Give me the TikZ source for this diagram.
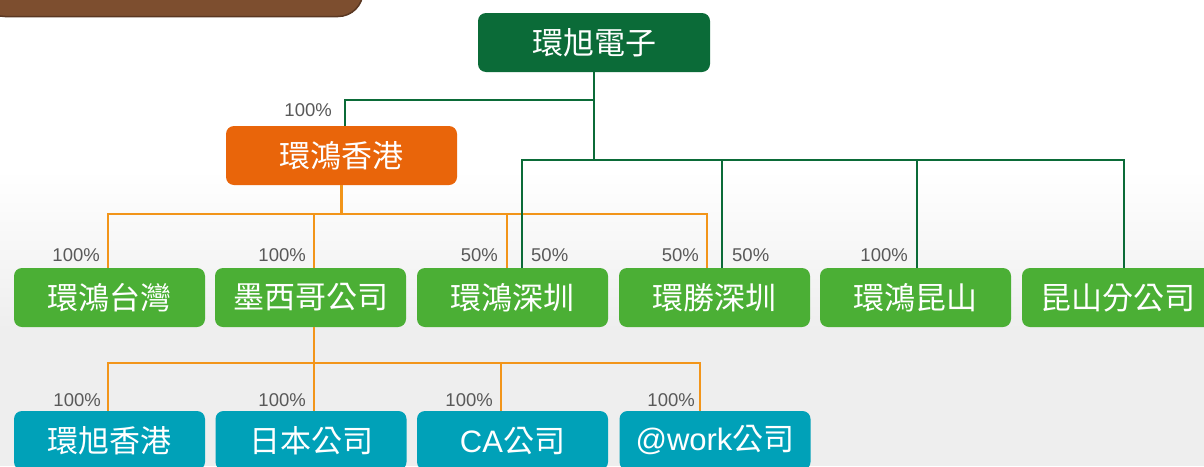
\documentclass[tikz,border=0pt]{standalone}
\usepackage{fontspec}
\setmainfont{Liberation Sans}
\newfontfamily\cjk{Noto Sans CJK TC}
\definecolor{dkgreen}{HTML}{0B6B38}
\definecolor{orangebox}{HTML}{E9650A}
\definecolor{greenbox}{HTML}{4BAF35}
\definecolor{tealbox}{HTML}{00A1B8}
\definecolor{orangeline}{HTML}{F2951A}
\definecolor{lblgray}{HTML}{595959}
\definecolor{brownc}{HTML}{7D4E2F}
\definecolor{browndk}{HTML}{5A3722}
\definecolor{bgg}{HTML}{EEEEEE}
\tikzset{
  box/.style={rectangle, rounded corners=8pt, minimum width=191pt, minimum height=59pt,
    inner sep=0pt, text=white, font=\cjk\fontsize{31}{31}\selectfont},
  wbox/.style={box, minimum width=232pt},
  gline/.style={draw=dkgreen, line width=2.9pt},
  oline/.style={draw=orangeline, line width=2.9pt},
  pct/.style={inner sep=0pt, text=lblgray, font=\fontsize{18.5}{18.5}\selectfont},
}
\begin{document}
\begin{tikzpicture}[x=1pt,y=-1pt]
\useasboundingbox (0,0) rectangle (1204,466);
\clip (0,0) rectangle (1204,466);
% background
\fill[white] (0,0) rectangle (1204,170);
\shade[top color=white, bottom color=bgg] (0,169.5) rectangle (1204,330);
\fill[bgg] (0,329.5) rectangle (1204,466);
% brown banner
\filldraw[fill=brownc, draw=browndk, line width=1.5pt, rounded corners=25pt] (-20,-60) rectangle (363,16.5);
% nodes
\node[wbox, fill=dkgreen] (top) at (594,42.5) {環旭電子};
\node[wbox, minimum width=231pt, fill=orangebox] (hk) at (341.5,155.5) {環鴻香港};
\node[box, fill=greenbox] (tw) at (109.5,297.5) {環鴻台灣};
\node[box, fill=greenbox] (mx) at (310.5,297.5) {墨西哥公司};
\node[box, fill=greenbox] (sz) at (512.5,297.5) {環鴻深圳};
\node[box, fill=greenbox] (ss) at (714.5,297.5) {環勝深圳};
\node[box, fill=greenbox] (kn) at (915.5,297.5) {環鴻昆山};
\node[box, fill=greenbox] (ks) at (1117.5,297.5) {昆山分公司};
\node[box, fill=tealbox] (ra) at (109.5,440.5) {環旭香港};
\node[box, fill=tealbox] (rb) at (311,440.5) {日本公司};
\node[box, fill=tealbox] (rc) at (512.5,440.5) {\fontspec{Liberation Sans}CA{\cjk 公司}};
\node[box, fill=tealbox] (rd) at (715,440.5) {\fontspec{Liberation Sans}@work{\cjk 公司}};
% bus coordinates
\coordinate (gbusA) at (0,100);
\coordinate (gbusB) at (0,160);
\coordinate (obusA) at (0,214);
\coordinate (obusB) at (0,363);
% orange connectors (level 2)
\draw[oline] (hk.south) -- (hk.south |- obusA);
\draw[oline] ([xshift=-1.5pt]tw.north) |- ([xshift=-7.5pt]ss.north |- obusA) -- ([xshift=-7.5pt]ss.north);
\draw[oline] ([xshift=3.5pt]mx.north) -- ([xshift=3.5pt]mx.north |- obusA);
\draw[oline] ([xshift=-5.5pt]sz.north) -- ([xshift=-5.5pt]sz.north |- obusA);
% orange connectors (level 3)
\draw[oline] ([xshift=3.5pt]mx.south) -- ([xshift=3.5pt]mx.south |- obusB);
\draw[oline] ([xshift=-1.5pt]ra.north) |- ([xshift=-15pt]rd.north |- obusB) -- ([xshift=-15pt]rd.north);
\draw[oline] ([xshift=3pt]rb.north) -- ([xshift=3pt]rb.north |- obusB);
\draw[oline] ([xshift=-11.5pt]rc.north) -- ([xshift=-11.5pt]rc.north |- obusB);
% green connectors
\draw[gline] (top.south) -- (top.south |- gbusB);
\draw[gline] (top.south |- gbusA) -| ([xshift=3.5pt]hk.north);
\draw[gline] ([xshift=9.5pt]sz.north) |- ([xshift=6.5pt]ks.north |- gbusB) -- ([xshift=6.5pt]ks.north);
\draw[gline] ([xshift=7.5pt]ss.north) -- ([xshift=7.5pt]ss.north |- gbusB);
\draw[gline] ([xshift=1.5pt]kn.north) -- ([xshift=1.5pt]kn.north |- gbusB);
% percentage labels
\node[pct, anchor=base east] (p0) at (332,116.5) {100\%};
\node[pct, anchor=base east] (p1) at (100,261.5) {100\%};
\node[pct, anchor=base east] (p2) at (306,261.5) {100\%};
\node[pct, anchor=base east] (p3) at (498,261.5) {50\%};
\node[pct, anchor=base west] (p4) at (531,261.5) {50\%};
\node[pct, anchor=base east] (p5) at (699,261.5) {50\%};
\node[pct, anchor=base west] (p6) at (732,261.5) {50\%};
\node[pct, anchor=base east] (p7) at (908,261.5) {100\%};
\node[pct, anchor=base east] (p8) at (101,406) {100\%};
\node[pct, anchor=base east] (p9) at (306,406) {100\%};
\node[pct, anchor=base east] (p10) at (493,406) {100\%};
\node[pct, anchor=base east] (p11) at (695,406) {100\%};
\end{tikzpicture}
\end{document}
